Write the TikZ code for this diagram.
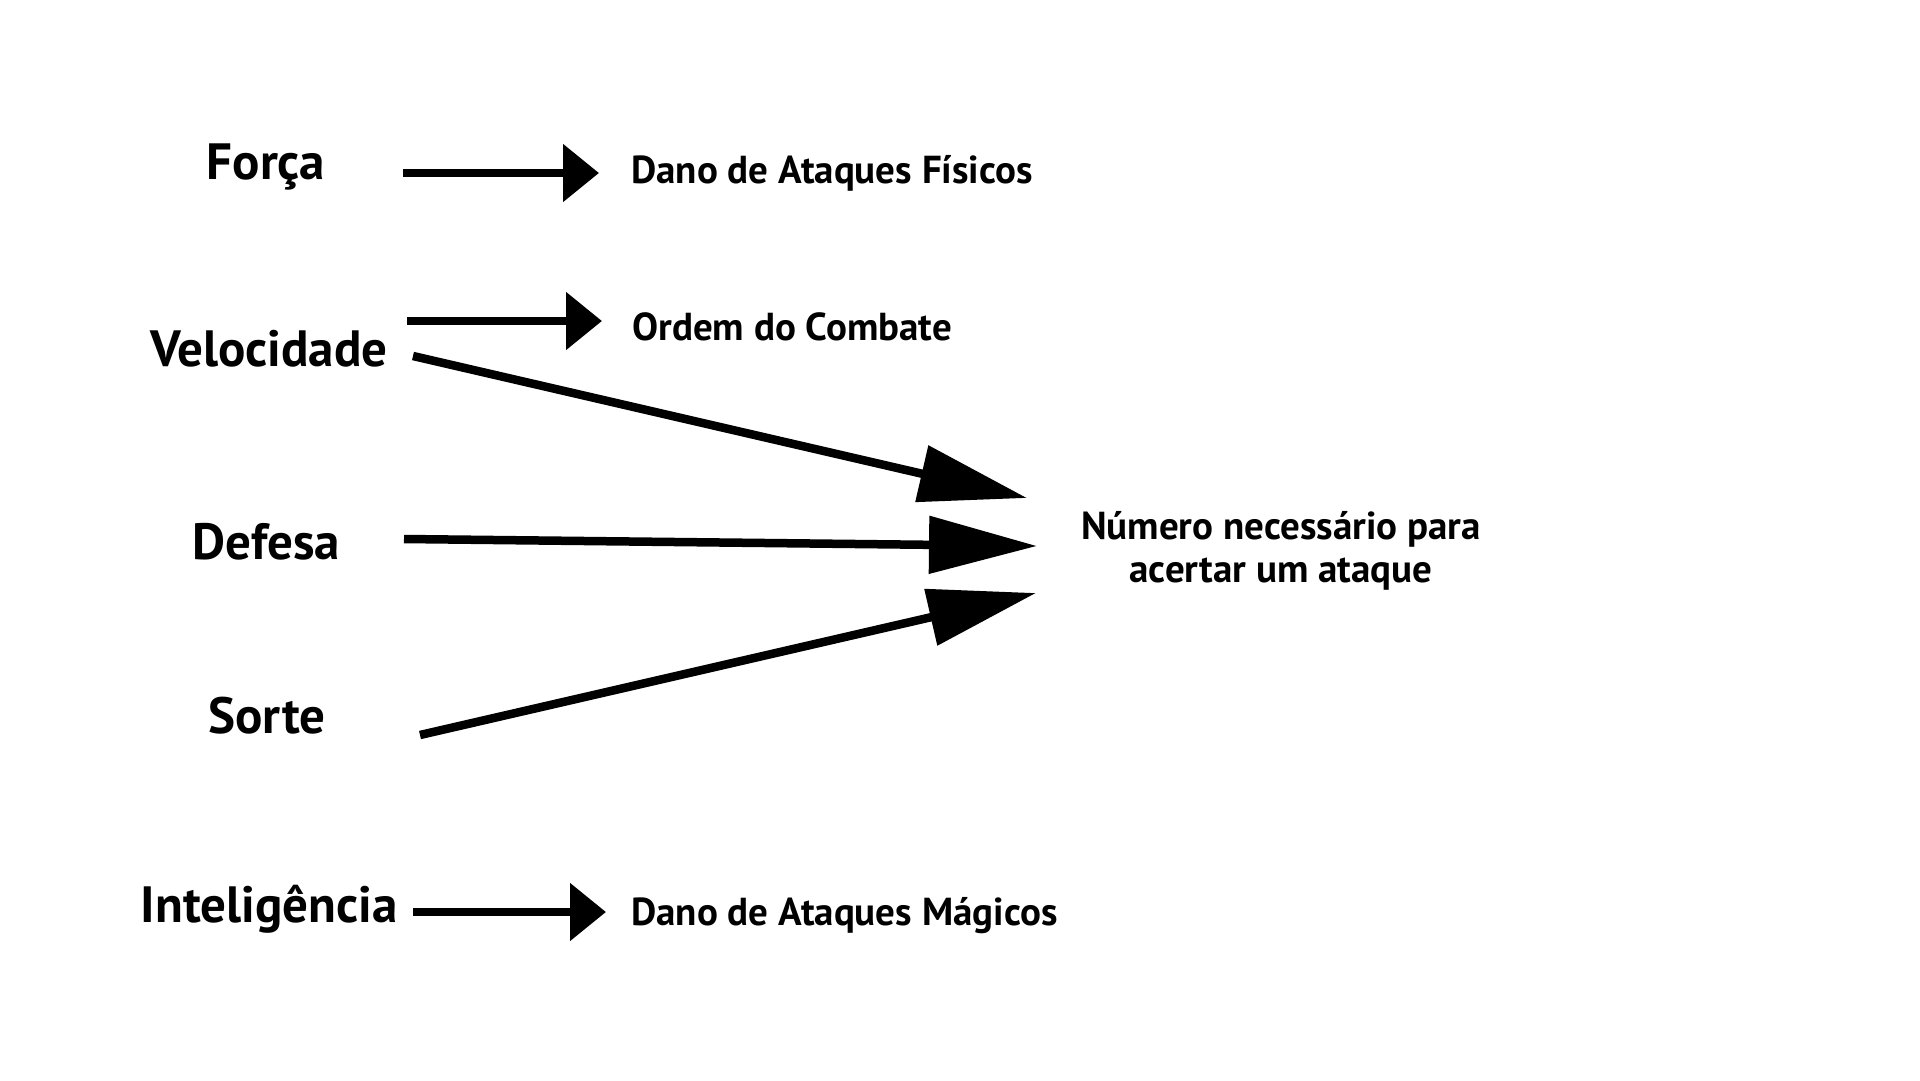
\documentclass[tikz,border=0pt]{standalone}
\usepackage{fontspec}
\setmainfont{PT Sans}
\usetikzlibrary{arrows.meta}

\begin{document}
\begin{tikzpicture}[
x=1pt,y=-1pt,
every node/.style={
inner sep=0pt,
font=\bfseries
},
atributo/.style={font=\fontsize{51}{56}\selectfont\bfseries, anchor=center},
efeito/.style={font=\fontsize{39}{44}\selectfont\bfseries, anchor=west},
seta/.style={line width=8.5pt, -{Triangle[length=36pt,width=56pt]}},
setalonga/.style={line width=8.5pt, -{Triangle[length=108pt,width=56pt]}}
]

\useasboundingbox (0,0) rectangle (1920,1080);

\node[atributo] (forca) at (266,167) {Força};
\node[atributo] (velocidade) at (269,349) {Velocidade};
\node[atributo] (defesa) at (266,542) {Defesa};
\node[atributo] (sorte) at (267,716) {Sorte};
\node[atributo] (inteligencia) at (269,909) {Inteligência};

\node[efeito] (fisico) at (631,173) {Dano de Ataques Físicos};
\node[efeito] (ordem) at (632,327) {Ordem do Combate};
\node[efeito] (magico) at (631,916) {Dano de Ataques Mágicos};
\node[font=\fontsize{39}{43}\selectfont\bfseries, align=center] (acerto) at (1281,551)
{Número necessário para\\acertar um ataque};

\coordinate (forcaS) at (403,173);
\coordinate (forcaE) at (599,173);
\coordinate (velS) at (407,321);
\coordinate (velE) at (602,321);
\coordinate (velD) at (413,356);
\coordinate (acertoA) at (1027,498);
\coordinate (defS) at (404,539);
\coordinate (acertoB) at (1037,546);
\coordinate (sorteS) at (420,735);
\coordinate (acertoC) at (1036,593);
\coordinate (intS) at (413,912);
\coordinate (intE) at (606,912);

\draw[seta] (forcaS)--(forcaE);
\draw[seta] (velS)--(velE);
\draw[seta] (intS)--(intE);
\draw[setalonga] (velD)--(acertoA);
\draw[setalonga] (defS)--(acertoB);
\draw[setalonga] (sorteS)--(acertoC);

\end{tikzpicture}
\end{document}
